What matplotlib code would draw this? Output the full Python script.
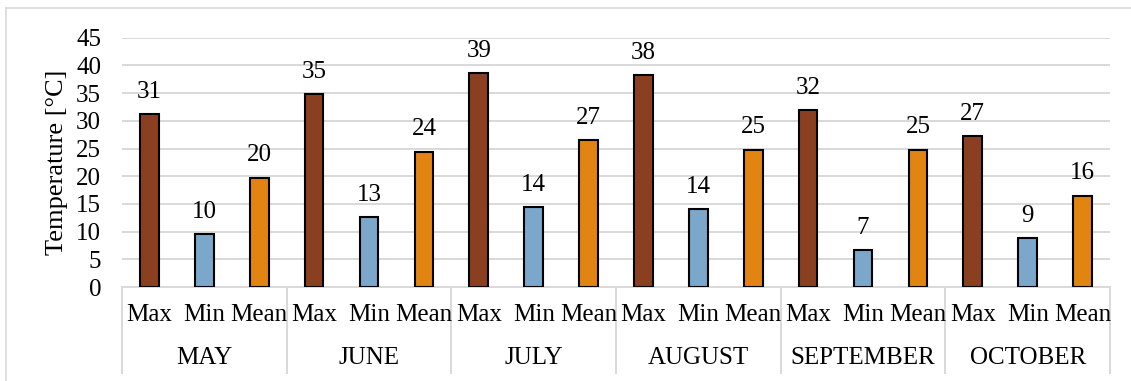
import numpy as np
import matplotlib
matplotlib.use("Agg")
import matplotlib.pyplot as plt
from matplotlib.lines import Line2D

plt.rcParams["font.family"] = ["Liberation Serif", "DejaVu Serif"]

months = ["MAY", "JUNE", "JULY", "AUGUST", "SEPTEMBER", "OCTOBER"]
stats = ["Max", "Min", "Mean"]
t_max = [31.2, 34.9, 38.6, 38.2, 31.9, 27.3]
t_min = [9.5, 12.65, 14.4, 14.0, 6.6, 8.9]
t_mean = [19.75, 24.45, 26.6, 24.8, 24.8, 16.5]
colors = {"Max": "#8B3F21", "Min": "#7BA7CA", "Mean": "#E28412"}

FS = 18

fig = plt.figure(figsize=(11.31, 3.81), dpi=100)
ax = fig.add_axes([122 / 1131, 94 / 381, 988 / 1131, 249.3 / 381])

series = {"Max": t_max, "Min": t_min, "Mean": t_mean}
for j, s in enumerate(stats):
    xs = np.arange(len(months)) * 3 + j + 0.5
    bars = ax.bar(xs, series[s], width=0.34, color=colors[s], edgecolor="black",
                  linewidth=1.5, zorder=3)
    for b, v in zip(bars, series[s]):
        ax.annotate(f"{v:.0f}", (b.get_x() + b.get_width() / 2, v), xytext=(0, 8),
                    textcoords="offset points", ha="center", va="bottom", fontsize=FS)

ax.set_xlim(0, 18)
ax.set_ylim(0, 45)
ax.set_yticks(range(0, 46, 5))
ax.yaxis.grid(True, color="#D9D9D9", linewidth=1.4, zorder=0)
ax.set_xticks([])
ax.tick_params(axis="y", length=0, pad=15, labelsize=FS)
for sp in ["top", "right", "left"]:
    ax.spines[sp].set_visible(False)
ax.spines["bottom"].set_color("#D9D9D9")
ax.spines["bottom"].set_linewidth(1.4)
ax.set_ylabel("Temperature [°C]", fontsize=19, labelpad=6)

# two-level category axis
tr = ax.get_xaxis_transform()
for i in range(len(months) + 1):
    ax.plot([i * 3, i * 3], [0, -0.345], transform=tr, color="#D9D9D9",
            linewidth=1.4, clip_on=False)
for i, m in enumerate(months):
    for j, s in enumerate(stats):
        ax.text(i * 3 + j + 0.5, -0.112, s, transform=tr, ha="center", va="center",
                fontsize=FS)
    ax.text(i * 3 + 1.5, -0.285, m, transform=tr, ha="center", va="center", fontsize=FS)

# outer frame
fig.add_artist(Line2D([6 / 1131, 1], [1 - 8 / 381] * 2, color="#D9D9D9", linewidth=1.2))
fig.add_artist(Line2D([6 / 1131] * 2, [0, 1 - 8 / 381], color="#D9D9D9", linewidth=1.2))

fig.savefig("out.png", dpi=100)
